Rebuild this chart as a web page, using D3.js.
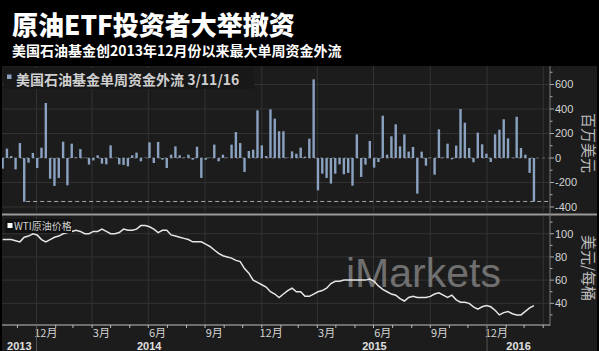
<!DOCTYPE html>
<html><head><meta charset="utf-8">
<script src="https://cdn.jsdelivr.net/npm/d3@7"></script>
<style>
html,body{margin:0;padding:0;background:#000;}
svg{display:block;}
</style></head>
<body>
<svg id="c" width="599" height="351"></svg>
<script>
// ---- data ----
const title = "原油ETF投资者大举撤资";
const subtitle = "美国石油基金创2013年12月份以来最大单周资金外流";
const legendFlow = "美国石油基金单周资金外流 3/11/16";
const legendWti = "WTI原油价格";
const flowAxisTitle = "百万美元";
const wtiAxisTitle = "美元/每桶";
const firstWeek = new Date(2013, 10, 1);   // Fri 1 Nov 2013
const lastWeek = new Date(2016, 2, 11);    // Fri 11 Mar 2016
// weekly fund flows, US$ mn
const flows = [-87,76,16,-93,122,-358,-38,41,-82,84,449,-169,-228,-163,133,-223,117,5,73,3,
  -54,-20,22,-46,-52,103,2,-52,-57,-68,22,44,-27,3,128,-41,131,-14,-82,27,
  95,22,3,27,-14,92,-163,-14,3,109,-27,27,3,109,212,122,-114,57,68,389,
  103,16,397,321,218,218,3,54,35,84,11,158,642,-264,-128,-163,-209,-128,-52,-133,
  -122,-226,193,-155,-54,139,-79,-33,345,27,177,275,95,193,52,90,-291,52,-63,3,
  -136,234,5,117,-11,101,400,288,82,-35,207,112,35,-33,193,231,316,160,3,337,
  82,27,-122,-355];
// WTI weekly price, US$/bbl
const wti = [95,95,95,94,93,97,98,100,99,95,93,95,97,98,100,101,102,103,102,100,
  100,102,102,104,102,100,100,101,104,103,103,104,107,107,106,104,101,103,103,99,
  98,97,96,95,93,93,93,91,89,86,83,81,80,79,77,76,70,66,60,58,
  56,54,50,48,45,48,51,53,50,50,46,46,48,50,51,53,57,59,59,60,
  60,60,60,60,60,61,59,55,52,50,48,47,44,42,45,46,45,45,45,46,
  48,49,47,45,47,43,41,41,40,37,35,37,38,37,34,30,32,33,31,30,
  30,33,36,38];
const flowTicks = [-400,-200,0,200,400,600];
const wtiTicks = [40,60,80,100];
const monthLabels = ["12月","3月","6月","9月","12月","3月","6月","9月","12月","3月"];
const yearLabels = ["2013","2014","2015","2016"];

// ---- layout ----
const svg = d3.select("#c");
const L = 2, R = 550;
const top1 = 66, bot1 = 212, top2 = 216, bot2 = 325;
const panelBg = "#1c1c1c", gridC = "#333", textC = "#d4d4d4";
const barC = "#8aa2c0";
const dates = d3.timeFriday.range(firstWeek, d3.timeDay.offset(lastWeek, 1));

const x = d3.scaleTime().domain([new Date(2013,10,6), new Date(2016,3,12)]).range([L, R]);
const y1 = d3.scaleLinear().domain([-441, 751]).range([bot1, top1]);
const y2 = d3.scaleLinear().domain([21.3, 115.3]).range([bot2, top2]);
const px = d => x(d3.timeDay.offset(d, 6));

// background
svg.append("rect").attr("x",0).attr("y",0).attr("width",599).attr("height",351).attr("fill","#000");
svg.append("rect").attr("x",L).attr("y",top1).attr("width",597-L).attr("height",351-top1).attr("fill",panelBg);

// titles
svg.append("text").attr("x",12).attr("y",34.5).text(title)
  .attr("fill","#fff").attr("font-family","'Noto Sans CJK SC',sans-serif")
  .attr("font-weight",900).attr("font-size",26);
svg.append("text").attr("x",12).attr("y",56).text(subtitle)
  .attr("fill","#fff").attr("font-family","'Noto Sans CJK SC',sans-serif")
  .attr("font-weight",700).attr("font-size",14);

svg.append("defs").append("clipPath").attr("id","cp1").append("rect")
  .attr("x",L).attr("y",top1).attr("width",R-L).attr("height",bot1-top1);

// grid
const quarters = d3.timeMonth.every(3).range(new Date(2014,0,1), new Date(2016,3,12));
const grid = svg.append("g").attr("stroke",gridC).attr("stroke-width",1);
quarters.forEach(q=>{
  grid.append("line").attr("x1",x(q)).attr("x2",x(q)).attr("y1",top1).attr("y2",bot1);
  grid.append("line").attr("x1",x(q)).attr("x2",x(q)).attr("y1",top2).attr("y2",bot2);
});
flowTicks.filter(t=>t!==0).forEach(t=>{
  grid.append("line").attr("x1",L).attr("x2",R).attr("y1",y1(t)).attr("y2",y1(t));
});
wtiTicks.forEach(t=>{
  grid.append("line").attr("x1",L).attr("x2",R).attr("y1",y2(t)).attr("y2",y2(t));
});
// zero line dashed
svg.append("line").attr("x1",L).attr("x2",R).attr("y1",y1(0)).attr("y2",y1(0))
  .attr("stroke","#666").attr("stroke-dasharray","3,3");

// bars
const bw = 2.4;
svg.append("g").attr("clip-path","url(#cp1)").selectAll("rect").data(flows).join("rect")
  .attr("x",(d,i)=>px(dates[i])-bw/2)
  .attr("y",d=>Math.min(y1(d),y1(0)))
  .attr("width",bw)
  .attr("height",d=>Math.abs(y1(d)-y1(0)))
  .attr("fill",barC);

// min dashed line (latest outflow level)
const minIdx = flows.indexOf(d3.min(flows));
const lastVal = flows[flows.length-1];
svg.append("line").attr("x1",px(dates[minIdx])+2).attr("x2",R)
  .attr("y1",y1(lastVal)).attr("y2",y1(lastVal))
  .attr("stroke","#aaa").attr("stroke-width",1).attr("stroke-dasharray","4,3");

// top legend
svg.append("rect").attr("x",4).attr("y",68).attr("width",250).attr("height",21).attr("fill","#181818");
svg.append("rect").attr("x",7).attr("y",74.5).attr("width",4.5).attr("height",4.5).attr("fill",barC);
svg.append("text").attr("x",16).attr("y",85).text(legendFlow)
  .attr("fill","#cfcfcf").attr("font-family","'Noto Sans CJK SC',sans-serif")
  .attr("font-weight",700).attr("font-size",14);

// watermark
svg.append("text").attr("x",346).attr("y",287).text("iMarkets")
  .attr("fill","#b4b4b4").attr("opacity",0.55)
  .attr("font-family","'Liberation Sans',Arial,sans-serif").attr("font-size",41);

// WTI line
svg.append("path").datum(wti)
  .attr("d", d3.line().x((d,i)=>px(dates[i])).y(d=>y2(d)))
  .attr("fill","none").attr("stroke","#e6e6e6").attr("stroke-width",1.5);

// bottom legend
svg.append("rect").attr("x",5).attr("y",219).attr("width",67).attr("height",14).attr("fill","#111");
svg.append("rect").attr("x",7.5).attr("y",223).attr("width",5).attr("height",5).attr("fill","#fff");
svg.append("text").attr("x",14).attr("y",230).text(legendWti)
  .attr("fill","#cfcfcf").attr("font-family","'Noto Sans CJK SC',sans-serif")
  .attr("font-size",10);

// separator & axes
svg.append("line").attr("x1",L).attr("x2",597).attr("y1",214.5).attr("y2",214.5)
  .attr("stroke","#9a9a9a").attr("stroke-width",2);
svg.append("line").attr("x1",R).attr("x2",R).attr("y1",top1).attr("y2",bot2+1)
  .attr("stroke","#7a7a7a").attr("stroke-width",1);
svg.append("line").attr("x1",L).attr("x2",R).attr("y1",bot2).attr("y2",bot2)
  .attr("stroke","#8a8a8a").attr("stroke-width",1.5);

const fontNum = "'Liberation Sans',Arial,sans-serif";
// right axis top
const ax1 = svg.append("g");
d3.range(-400, 751, 100).forEach(v=>{
  const major = flowTicks.includes(v);
  ax1.append("line").attr("x1",R).attr("x2",R+(major?4:2.5)).attr("y1",y1(v)).attr("y2",y1(v))
    .attr("stroke","#aaa");
});
flowTicks.forEach(v=>{
  ax1.append("text").attr("x",R+5).attr("y",y1(v)+4).text(v)
    .attr("fill",textC).attr("font-family",fontNum).attr("font-size",11);
});
d3.range(30, 115, 10).forEach(v=>{
  const major = wtiTicks.includes(v);
  ax1.append("line").attr("x1",R).attr("x2",R+(major?4:2.5)).attr("y1",y2(v)).attr("y2",y2(v))
    .attr("stroke","#aaa");
});
wtiTicks.forEach(v=>{
  ax1.append("text").attr("x",R+5).attr("y",y2(v)+4).text(v)
    .attr("fill",textC).attr("font-family",fontNum).attr("font-size",11);
});
svg.append("text").attr("transform","translate(583,143) rotate(90)").attr("text-anchor","middle")
  .text(flowAxisTitle).attr("fill","#bdbdbd").attr("font-family","'Noto Sans CJK SC',sans-serif").attr("font-size",15);
svg.append("text").attr("transform","translate(583,268) rotate(90)").attr("text-anchor","middle")
  .text(wtiAxisTitle).attr("fill","#bdbdbd").attr("font-family","'Noto Sans CJK SC',sans-serif").attr("font-size",15);

// x axis: month ticks
const months = d3.timeMonth.range(new Date(2013,10,6), new Date(2016,3,12));
months.forEach(m=>{
  svg.append("line").attr("x1",x(m)).attr("x2",x(m)).attr("y1",bot2).attr("y2",bot2+3)
    .attr("stroke","#bbb");
});
const labelMonths = d3.timeMonth.every(3).range(new Date(2013,11,1), new Date(2016,3,1));
labelMonths.forEach((m,i)=>{
  svg.append("text").attr("x",x(new Date(m.getFullYear(), m.getMonth(), 16)))
    .attr("y",336.5).attr("text-anchor","middle").text(monthLabels[i])
    .attr("fill",textC).attr("font-family","'Noto Sans CJK SC',sans-serif").attr("font-size",11);
});
// years
yearLabels.forEach(yr=>{
  const a = Math.max(x(new Date(+yr,0,1)), L), b = Math.min(x(new Date(+yr+1,0,1)), R);
  svg.append("text").attr("x",(a+b)/2).attr("y",349.5).attr("text-anchor","middle").text(yr)
    .attr("fill","#e0e0e0").attr("font-family",fontNum).attr("font-weight",700).attr("font-size",11);
});
[new Date(2014,0,1), new Date(2016,0,1)].forEach(d=>{
  svg.append("line").attr("x1",x(d)).attr("x2",x(d)).attr("y1",bot2).attr("y2",351)
    .attr("stroke","#555");
});
</script>
</body></html>
